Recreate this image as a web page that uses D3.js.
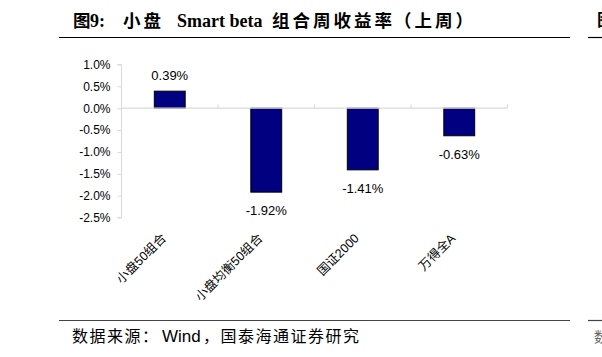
<!DOCTYPE html>
<html><head><meta charset="utf-8">
<script src="https://cdn.jsdelivr.net/npm/d3@7"></script>
<style>
body{margin:0;background:#fff;}
svg{display:block;}
</style></head>
<body>
<svg id="c" width="602" height="357"></svg>
<script>
const categories = ["小盘50组合", "小盘均衡50组合", "国证2000", "万得全A"];
const values = [0.39, -1.92, -1.41, -0.63];
const yTicks = [1.0, 0.5, 0.0, -0.5, -1.0, -1.5, -2.0, -2.5];
const titleParts = ["图", "9:", "小盘", "Smart beta", "组合周收益率", "（上周）"];
const sourceParts = ["数据来源：", "Wind", "，", "国泰海通证券研究"];

const svg = d3.select("#c");
const latin = "'Liberation Sans', Arial, sans-serif";
const cjkSans = "'Noto Sans CJK SC', sans-serif";
const serif = "'Liberation Serif', 'Noto Sans CJK SC', serif";

const x = d3.scaleBand().domain(categories).range([121.5, 507.5]).paddingInner(0.68).paddingOuter(0.34);
const y = d3.scaleLinear().domain([-2.5, 1.0]).range([217.5, 64.5]);

// title
const titleX = [73, 90, 123, 177, 272, 394];
const titleFont = [cjkSans, serif, cjkSans, serif, cjkSans, cjkSans];
const titleSize = [17.5, 18, 17.5, 18, 17.5, 17.5];
const titleSpacing = [0, 0, 3, 0, 3, 3];
const t = svg.append("text").attr("y", 27)
  .attr("font-weight", "bold").attr("fill", "#000");
titleParts.forEach((p, i) => t.append("tspan").attr("x", titleX[i])
  .attr("font-family", titleFont[i]).attr("font-size", titleSize[i])
  .attr("letter-spacing", titleSpacing[i]).text(p));

// header/footer rules
svg.append("line").attr("x1", 59).attr("x2", 570).attr("y1", 37.5).attr("y2", 37.5).attr("stroke", "#000").attr("stroke-width", 1.2);
svg.append("line").attr("x1", 588).attr("x2", 602).attr("y1", 37.5).attr("y2", 37.5).attr("stroke", "#000").attr("stroke-width", 1.2);
svg.append("line").attr("x1", 59).attr("x2", 570).attr("y1", 320.5).attr("y2", 320.5).attr("stroke", "#444").attr("stroke-width", 1.2);
svg.append("line").attr("x1", 588).attr("x2", 602).attr("y1", 320.5).attr("y2", 320.5).attr("stroke", "#444").attr("stroke-width", 1.2);
svg.append("text").attr("x", 597).attr("y", 26).attr("font-family", cjkSans).attr("font-weight","bold").attr("font-size", 17).text("图");
svg.append("text").attr("x", 594).attr("y", 342).attr("font-family", cjkSans).attr("fill","#666").attr("font-size", 14).text("数");

// y axis
const yAxis = d3.axisLeft(y).tickValues(yTicks).tickSize(4).tickPadding(7)
  .tickFormat(d => d.toFixed(1) + "%");
const gy = svg.append("g").attr("transform", "translate(121.5,0)").call(yAxis);
gy.select(".domain").attr("stroke", "#d9d9d9").attr("d", `M-4,${y(1.0)}H0V${y(-2.5)}H-4`);
gy.selectAll(".tick line").attr("stroke", "#d9d9d9");
gy.selectAll(".tick text").attr("font-family", latin).attr("font-size", 12).attr("fill", "#000");

// bars
svg.append("g").selectAll("rect").data(values).join("rect")
  .attr("x", (d, i) => x(categories[i]))
  .attr("width", x.bandwidth())
  .attr("y", d => y(Math.max(0, d)))
  .attr("height", d => Math.abs(y(d) - y(0)))
  .attr("fill", "#000080").attr("stroke", "#000").attr("stroke-width", 1);

// zero axis with category separators
const x0 = d3.scaleBand().domain(categories).range([121.5, 507.5]);
const gx = svg.append("g").attr("transform", `translate(0,${y(0)})`);
gx.append("line").attr("x1", 121.5).attr("x2", 507.5).attr("stroke", "#d9d9d9").attr("stroke-width", 1.2);
gx.selectAll("line.sep").data(categories).join("line").attr("class","sep")
  .attr("x1", d => x0(d) + x0.bandwidth()).attr("x2", d => x0(d) + x0.bandwidth())
  .attr("y1", 0).attr("y2", -4).attr("stroke", "#d9d9d9");

// data labels
svg.append("g").selectAll("text").data(values).join("text")
  .attr("x", (d, i) => x(categories[i]) + x.bandwidth() / 2)
  .attr("y", d => d >= 0 ? y(d) - 11 : y(d) + 23)
  .attr("text-anchor", "middle")
  .attr("font-family", latin).attr("font-size", 13).attr("fill", "#000")
  .text(d => d.toFixed(2) + "%");

// category labels
svg.append("g").selectAll("text").data(categories).join("text")
  .attr("transform", d => `translate(${x0(d) + x0.bandwidth()/2 - 3},${239}) rotate(-45)`)
  .attr("text-anchor", "end")
  .attr("font-family", "'Liberation Sans', 'Noto Sans CJK SC', sans-serif").attr("font-size", 12.5).attr("fill", "#000")
  .text(d => d);

// source
const sourceX = [72, 162, 203, 220.5];
const sourceFont = [cjkSans, latin, cjkSans, cjkSans];
const sourceSize = [16, 17, 16, 16];
const sourceSpacing = [1.5, 0, 0, 1.5];
const s = svg.append("text").attr("y", 342).attr("fill", "#000");
sourceParts.forEach((p, i) => s.append("tspan").attr("x", sourceX[i])
  .attr("font-family", sourceFont[i]).attr("font-size", sourceSize[i])
  .attr("letter-spacing", sourceSpacing[i]).text(p));
</script>
</body></html>
